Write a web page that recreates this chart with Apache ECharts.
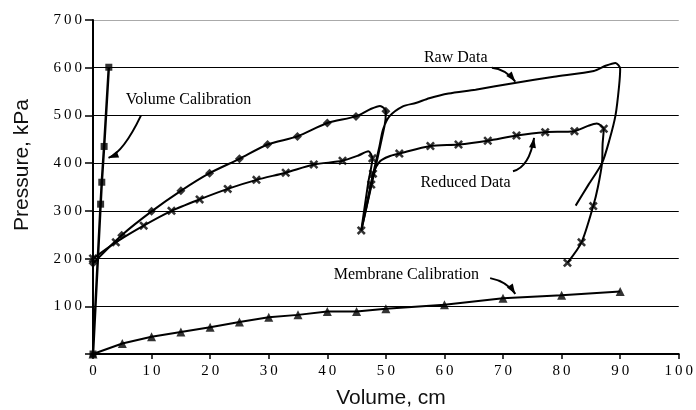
<!DOCTYPE html>
<html>
<head>
<meta charset="utf-8">
<script src="https://cdn.jsdelivr.net/npm/echarts@6/dist/echarts.min.js"></script>
<style>
    html, body {margin: 0; padding: 0; background: #fff;}
    #chart {width: 696px; height: 410px;}
</style>
</head>
<body>
<div id="chart"></div>
<script>
// axis ticks
var xTicks = [0, 10, 20, 30, 40, 50, 60, 70, 80, 90, 100];
var yTicks = [0, 100, 200, 300, 400, 500, 600, 700];

// series, [volume, pressure]
var volumeCal = [[0, 0], [1.3, 314], [1.5, 360], [1.9, 435], [2.7, 601]];
var membraneCal = [[0, 0], [5, 22], [10, 36], [15, 46], [20, 56], [25, 67], [30, 77], [35, 82], [40, 89],
    [45, 89], [50, 95], [60, 103], [70, 117], [80, 123], [90, 131]];

var rawPath = [[0, 190], [4.9, 249], [10, 299], [15, 342], [19.9, 379], [25, 409], [29.8, 439], [34.9, 456],
    [40, 484], [44.9, 498], [47.5, 514], [49, 520], [50, 509], [49.8, 480], [45.8, 259], [47.5, 360],
    [48.9, 435], [49.5, 470], [50.6, 498], [52.9, 519], [55.1, 526], [57.4, 536], [60.7, 546], [65.3, 554],
    [72, 568], [78.7, 581], [85.5, 593], [87.5, 604], [89.2, 610], [90, 598], [89.8, 560], [89.2, 500],
    [88.2, 450], [86.9, 400], [84.6, 355], [82.4, 311]];
var rawMarks = [[0, 190], [4.9, 249], [10, 299], [15, 342], [19.9, 379], [25, 409], [29.8, 439], [34.9, 456],
    [40, 484], [44.9, 498], [50, 509]];

var reducedPath = [[0, 200], [3.9, 234], [8.65, 269], [13.4, 300], [18.2, 324], [23, 346], [27.9, 365],
    [32.9, 380], [37.7, 397], [42.6, 405], [45.3, 416], [47, 425], [47.7, 410], [47, 360], [45.8, 259],
    [47.5, 355], [47.8, 378], [49, 404], [50.5, 414], [52.3, 420], [57.6, 436], [62.4, 439], [67.4, 447],
    [72.3, 458], [77.2, 465], [82.2, 467], [84.5, 478], [86, 483], [87.2, 472], [87, 440], [86.9, 400],
    [86.2, 350], [85.4, 310], [83.4, 234], [81, 191]];
var reducedMarks = [[0, 200], [3.9, 234], [8.65, 269], [13.4, 300], [18.2, 324], [23, 346], [27.9, 365],
    [32.9, 380], [37.7, 397], [42.6, 405], [47.7, 410], [45.8, 259], [47.5, 355], [47.8, 378], [52.3, 420],
    [57.6, 436], [62.4, 439], [67.4, 447], [72.3, 458], [77.2, 465], [82.2, 467], [87.2, 472], [85.4, 310],
    [83.4, 234], [81, 191]];

// annotations (data coords): label position, arrow start, bend, tip
var notes = [
    {text: 'Volume Calibration', at: [5.6, 533], from: [8.2, 500], bend: [5.2, 423], to: [2.65, 411]},
    {text: 'Raw Data', at: [56.5, 621], from: [68.1, 600], bend: [70.3, 598], to: [72.1, 571]},
    {text: 'Reduced Data', at: [55.9, 359], from: [71.7, 383], bend: [74.5, 392], to: [75.3, 453]},
    {text: 'Membrane Calibration', at: [41.1, 165], from: [67.8, 159], bend: [70.7, 152], to: [72.1, 126]}
];

var serif = 'Liberation Serif';
var crossPath = 'path://M0,2L2,0L5,3L8,0L10,2L7,5L10,8L8,10L5,7L2,10L0,8L3,5Z';

function spaced(v) {
    return String(v).split('').join('\u2009');
}

function lineSeries(data, width, smooth) {
    return {
        type: 'line', data: data, smooth: smooth, symbol: 'none', clip: false,
        lineStyle: {color: '#000', width: width}, z: 3
    };
}

function markSeries(data, symbol, size) {
    return {
        type: 'scatter', data: data, symbol: symbol, symbolSize: size, clip: false,
        itemStyle: {color: '#000'}, z: 4
    };
}

var myChart = echarts.init(document.getElementById('chart'), null, {renderer: 'canvas'});
myChart.setOption({
    animation: false,
    grid: {left: 93, right: 10, top: 20, bottom: 56},
    xAxis: {
        type: 'value', min: 0, max: 100, interval: 10,
        axisLine: {show: true, lineStyle: {color: '#000', width: 2}},
        axisTick: {show: true, inside: false, length: 5, lineStyle: {color: '#000', width: 1.5}},
        axisLabel: {
            margin: 10, color: '#000', fontFamily: serif, fontSize: 15,
            formatter: function (v) { return xTicks.indexOf(v) >= 0 ? spaced(v) : ''; }
        },
        splitLine: {show: false}
    },
    yAxis: {
        type: 'value', min: 0, max: 700, interval: 100,
        axisLine: {show: true, lineStyle: {color: '#000', width: 2}},
        axisTick: {show: true, inside: false, length: 8, lineStyle: {color: '#000', width: 1.5}},
        axisLabel: {
            margin: 11, color: '#000', fontFamily: serif, fontSize: 15,
            formatter: function (v) { return v === 0 ? '' : spaced(v); }
        },
        splitLine: {
            show: true,
            lineStyle: {width: 1.2, color: ['#000', '#000', '#000', '#000', '#000', '#000', '#000', '#aaa']}
        }
    },
    series: [
        lineSeries(volumeCal, 2.5, false),
        markSeries(volumeCal, 'rect', 7),
        lineSeries(membraneCal, 2, false),
        markSeries(membraneCal, 'triangle', 9),
        lineSeries(rawPath, 2, 0.25),
        markSeries(rawMarks, 'diamond', 9),
        lineSeries(reducedPath, 2, 0.25),
        markSeries(reducedMarks, crossPath, 9)
    ]
});

// annotation texts and curved arrows, placed through the axes
var graphics = [
    {type: 'text', x: 22, y: 165, rotation: Math.PI / 2,
        style: {text: 'Pressure, kPa', font: '21px "Liberation Sans"', fill: '#111', textAlign: 'center', textVerticalAlign: 'middle'}},
    {type: 'text', x: 391, y: 398,
        style: {text: 'Volume, cm', font: '21px "Liberation Sans"', fill: '#111', textAlign: 'center', textVerticalAlign: 'middle'}}
];
for (let i = 0; i < notes.length; i++) {
    let n = notes[i];
    let at = myChart.convertToPixel({gridIndex: 0}, n.at);
    let a = myChart.convertToPixel({gridIndex: 0}, n.from);
    let c = myChart.convertToPixel({gridIndex: 0}, n.bend);
    let b = myChart.convertToPixel({gridIndex: 0}, n.to);
    graphics.push({type: 'text', x: at[0], y: at[1],
        style: {text: n.text, font: '16px "' + serif + '"', fill: '#000', textAlign: 'left', textVerticalAlign: 'middle'}});
    graphics.push({type: 'bezierCurve',
        shape: {x1: a[0], y1: a[1], x2: b[0], y2: b[1], cpx1: c[0], cpy1: c[1]},
        style: {stroke: '#000', lineWidth: 2, fill: null}});
    let dx = b[0] - c[0], dy = b[1] - c[1];
    let len = Math.sqrt(dx * dx + dy * dy);
    let ux = dx / len, uy = dy / len;
    let bx = b[0] - ux * 10, by = b[1] - uy * 10;
    graphics.push({type: 'polygon',
        shape: {points: [[b[0], b[1]], [bx - uy * 3.5, by + ux * 3.5], [bx + uy * 3.5, by - ux * 3.5]]},
        style: {fill: '#000'}});
}
myChart.setOption({graphic: graphics});
</script>
</body>
</html>
